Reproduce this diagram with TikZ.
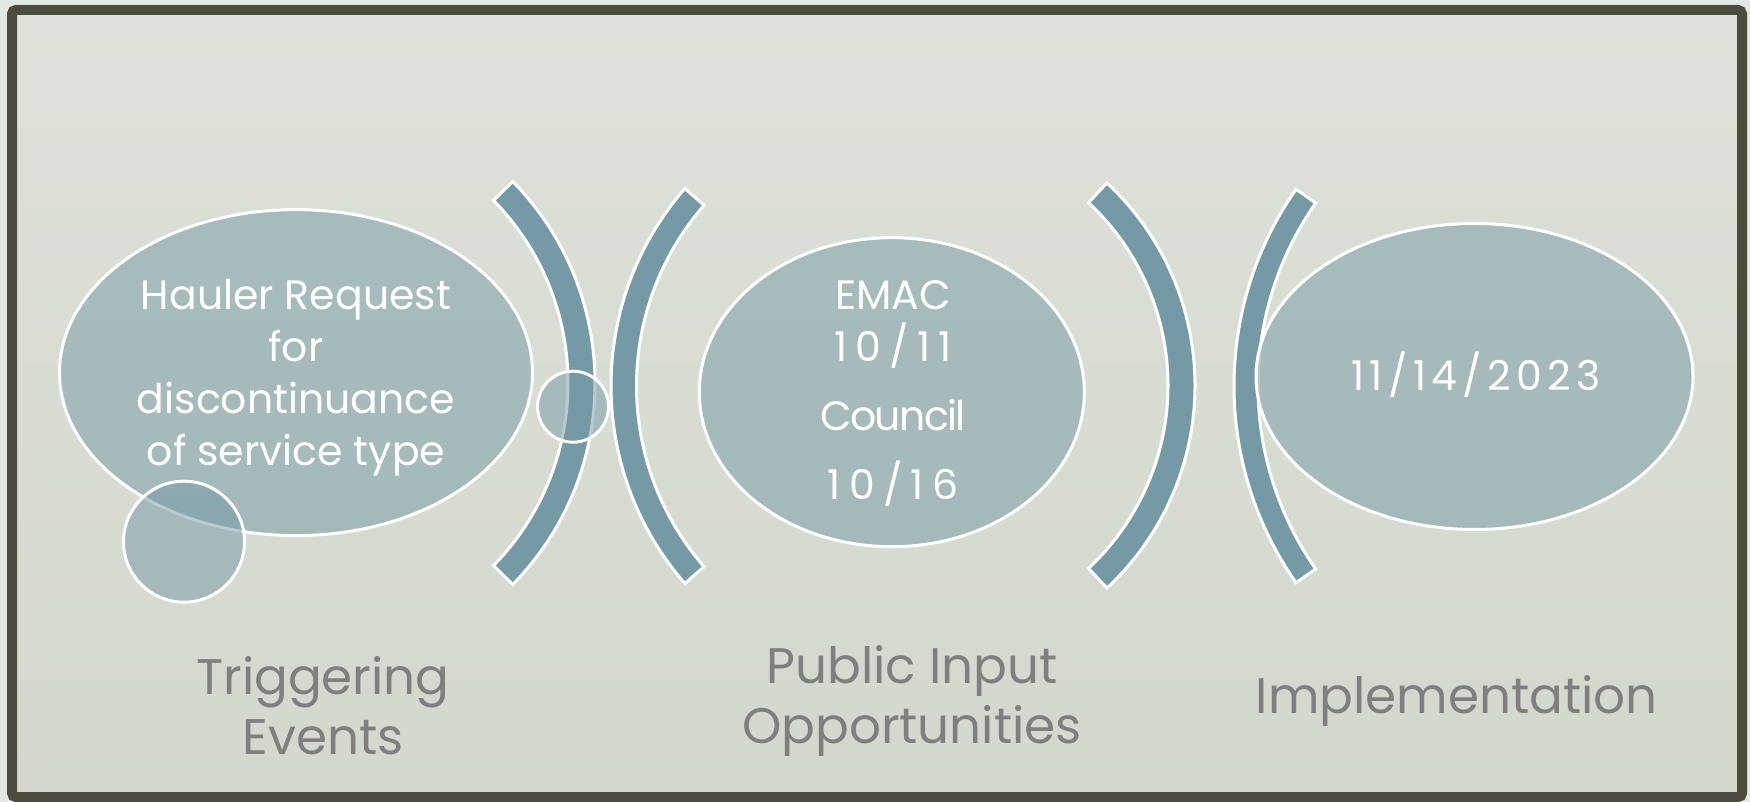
\documentclass[tikz,border=0pt]{standalone}
\usepackage{fontspec}
\setmainfont{Poppins}[Numbers=Monospaced]
\usetikzlibrary{shapes.geometric}

\definecolor{band}{RGB}{117,153,165}
\definecolor{frame}{RGB}{78,76,60}
\definecolor{outside}{RGB}{226,232,226}
\definecolor{bgtop}{RGB}{221,225,217}
\definecolor{bgbot}{RGB}{211,216,206}
\definecolor{labelgray}{RGB}{127,127,127}

\newcommand\bubblefont{\fontsize{41}{52}\selectfont}
\newcommand\labelfont{\fontsize{50}{59.5}\selectfont}
\newcommand\wide[1]{{\addfontfeature{LetterSpace=20}#1}}

\begin{document}
\begin{tikzpicture}[x=1pt,y=1pt,yscale=-1,
  band/.style={fill=band,draw=white,line width=3pt},
  bubble/.style={ellipse,fill=band,fill opacity=0.5,draw=white,line width=3pt,inner sep=0pt},
  dot/.style={circle,fill=band,fill opacity=0.5,draw=white,line width=3pt,inner sep=0pt},
  bubbletext/.style={anchor=base,align=center,text=white,font=\bubblefont,inner sep=0pt},
  label/.style={anchor=base,align=center,text=labelgray,font=\labelfont,inner sep=0pt}]
\useasboundingbox (0,0) rectangle (1750,802);

%background and frame
\fill[outside] (0,0) rectangle (1750,802);
\shade[top color=bgtop,bottom color=bgbot] (12,10) rectangle (1742,797);
\draw[frame,line width=10pt,rounded corners=4pt] (12,10) rectangle (1742,797);

%arcs
\draw[band] (307,383) ++(-44.4:288) arc[start angle=-44.4,end angle=44.4,radius=288]
  -- ++(224.4:27) arc[start angle=44.4,end angle=-44.4,radius=261] -- cycle;
\draw[band] (912,386) ++(139:301) arc[start angle=139,end angle=221,radius=301]
  -- ++(41:25.5) arc[start angle=221,end angle=139,radius=275.5] -- cycle;
\draw[band] (918,385.5) ++(-47:277) arc[start angle=-47,end angle=47,radius=277]
  -- ++(227:27) arc[start angle=47,end angle=-47,radius=250] -- cycle;
\draw[band] (1577,386) ++(145:343) arc[start angle=145,end angle=215,radius=343]
  -- ++(35:24) arc[start angle=215,end angle=145,radius=319] -- cycle;

%bubbles
\node[bubble,minimum width=473,minimum height=326] (hauler) at (296,372.6) {};
\node[bubble,minimum width=385,minimum height=309] (emac) at (891.8,392.2) {};
\node[bubble,minimum width=437,minimum height=306] (golive) at (1474.5,376.5) {};
\node[dot,minimum size=121] (dotA) at (184,541.7) {};
\node[dot,minimum size=71] (dotB) at (573,406.7) {};

%texts (base = last line)
\node[bubbletext] (haulertxt) at (296,465.5)
  {Hauler Request\\for\\discontinuance\\of service type};
\node[bubbletext] (emactxt) at (893,499.3)
  {EMAC\\\wide{10/11}\\[17pt]{\addfontfeature{LetterSpace=-4}Council}\\[17pt]\wide{10/16}};
\node[bubbletext,font=\bubblefont\addfontfeature{LetterSpace=13}] (golivetxt) at (1476,390) {11/14/2023};

%labels
\node[label] (lbltrig) at (323,754.3) {Triggering\\Events};
\node[label] (lblpub) at (912,743.3) {Public Input\\Opportunities};
\node[label] (lblimpl) at (1456.7,713.3) {Implementation};

\end{tikzpicture}
\end{document}
